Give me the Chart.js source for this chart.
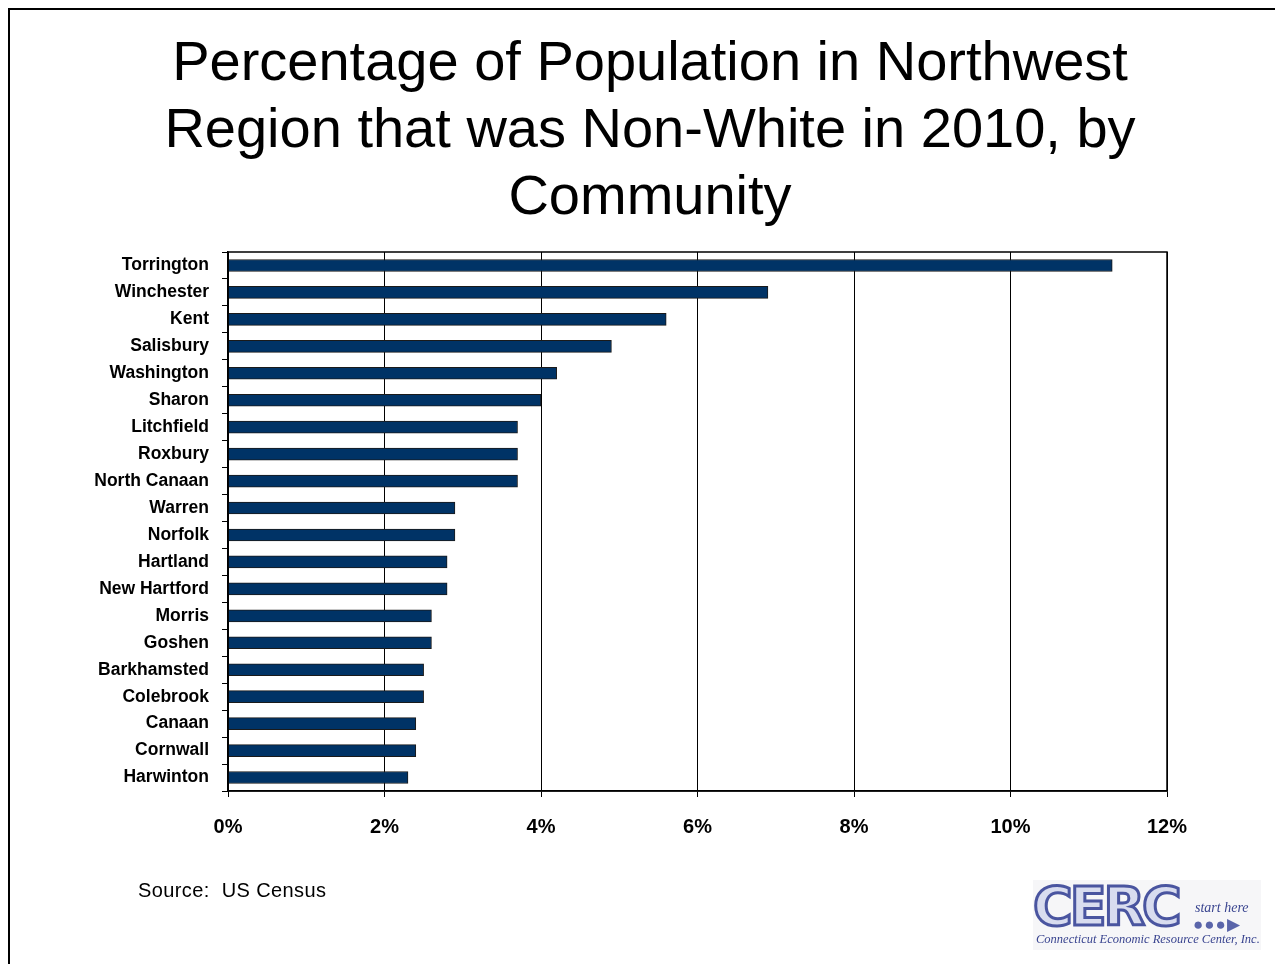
<!DOCTYPE html>
<html>
<head>
<meta charset="utf-8">
<script src="https://cdn.jsdelivr.net/npm/chart.js@4"></script>
<style>
    html, body { margin: 0; padding: 0; background: #fff; }
    body { width: 1275px; height: 964px; position: relative; overflow: hidden; font-family: "Liberation Sans", Arial, sans-serif; }
    .frame { position: absolute; left: 8px; top: 8px; width: 1300px; height: 1000px; border: 2px solid #000; box-sizing: border-box; }
    .title { position: absolute; left: 0; top: 27px; width: 1300px; text-align: center; font-size: 56px; line-height: 67px; color: #000; }
    #chartWrap { position: absolute; left: 0; top: 0; width: 1275px; height: 964px; }
    .source { position: absolute; left: 138px; top: 879px; font-size: 20px; letter-spacing: 0.4px; color: #000; }
    .logo { position: absolute; left: 1033px; top: 880px; width: 228px; height: 70px; background: #f6f6f8; }
    .logo .cerc { position: absolute; left: 0; top: -5px; font: bold 54px "DejaVu Sans", sans-serif; letter-spacing: -3px; color: #d8dcef; -webkit-text-stroke: 3px #4a55a0; }
    .logo .here { position: absolute; left: 162px; top: 20px; font: italic 14px "Liberation Serif", serif; color: #3a4590; }
    .logo .dots { position: absolute; left: 160px; top: 34px; font-size: 17px; color: #5a65aa; letter-spacing: 1px; }
    .logo .sub { position: absolute; left: 3px; top: 52px; font: italic 12.5px "Liberation Serif", serif; color: #3a4590; white-space: nowrap; }
</style>
</head>
<body>
<div class="frame"></div>
<div class="title">Percentage of Population in Northwest<br>Region that was Non-White in 2010, by<br>Community</div>
<div id="chartWrap"><canvas id="chart"></canvas></div>
<div class="source">Source:&nbsp; US Census</div>
<div class="logo">
    <div class="cerc">CERC</div>
    <div class="here">start here</div>
    <div class="dots">&#9679;&#9679;&#9679;&#9654;</div>
    <div class="sub">Connecticut Economic Resource Center, Inc.</div>
</div>
<script>
// Data
const communities = ['Torrington', 'Winchester', 'Kent', 'Salisbury', 'Washington', 'Sharon', 'Litchfield', 'Roxbury', 'North Canaan', 'Warren', 'Norfolk', 'Hartland', 'New Hartford', 'Morris', 'Goshen', 'Barkhamsted', 'Colebrook', 'Canaan', 'Cornwall', 'Harwinton'];
const nonWhitePct = [11.3, 6.9, 5.6, 4.9, 4.2, 4.0, 3.7, 3.7, 3.7, 2.9, 2.9, 2.8, 2.8, 2.6, 2.6, 2.5, 2.5, 2.4, 2.4, 2.3];
const xTicks = [0, 2, 4, 6, 8, 10, 12];

// Kotak hitam di sekeliling area plot
const boxPlugin = {
    id: 'plotBox',
    afterDatasetsDraw(chart) {
        const a = chart.chartArea, ctx = chart.ctx;
        ctx.save();
        ctx.strokeStyle = '#000';
        ctx.lineWidth = 1.5;
        ctx.strokeRect(a.left, a.top, a.right - a.left, a.bottom - a.top);
        ctx.restore();
    }
};

new Chart(document.getElementById('chart'), {
    type: 'bar',
    data: {
        labels: communities,
        datasets: [{
            data: nonWhitePct,
            backgroundColor: '#003366',
            borderColor: '#1a1a1a',
            borderWidth: 1,
            barThickness: 12
        }]
    },
    options: {
        indexAxis: 'y',
        responsive: true,
        maintainAspectRatio: false,
        animation: false,
        layout: { padding: { left: 0, right: 108, top: 252, bottom: 0 } },
        plugins: { legend: { display: false }, tooltip: { enabled: false } },
        scales: {
            x: {
                min: 0, max: 12,
                afterBuildTicks: scale => { scale.ticks = xTicks.map(v => ({ value: v })); },
                afterFit: scale => { scale.height = 173; },
                grid: { color: '#000', lineWidth: 1, tickLength: 6 },
                border: { color: '#000', width: 1.5 },
                ticks: {
                    color: '#000', padding: 18,
                    font: { family: 'Liberation Sans', size: 20, weight: 'bold' },
                    callback: v => v + '%'
                }
            },
            y: {
                afterFit: scale => { scale.width = 228; },
                grid: { drawOnChartArea: false, color: '#000', tickLength: 6, offset: true },
                border: { color: '#000', width: 1.5 },
                ticks: {
                    color: '#000', padding: 13,
                    font: { family: 'Liberation Sans', size: 17.5, weight: 'bold' }
                }
            }
        }
    },
    plugins: [boxPlugin]
});
</script>
</body>
</html>
